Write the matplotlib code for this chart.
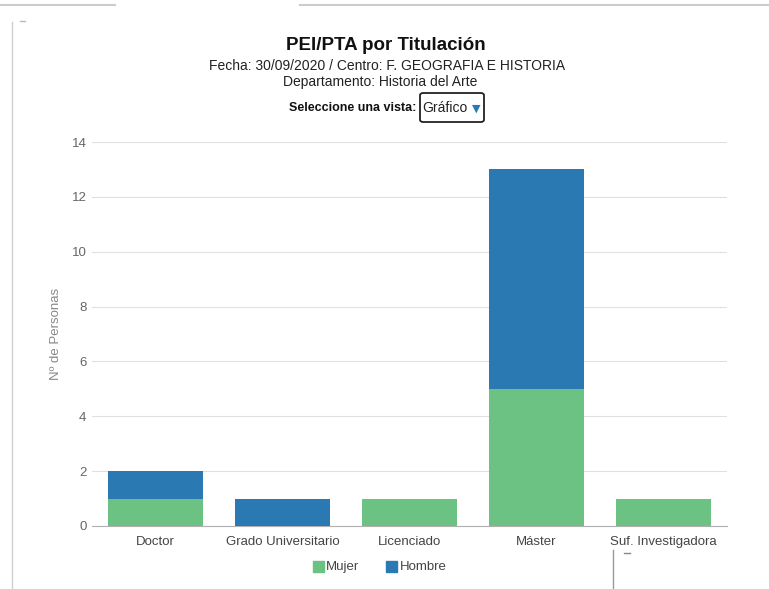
import matplotlib
matplotlib.use("Agg")
import matplotlib.pyplot as plt
from matplotlib.patches import FancyBboxPatch, Rectangle
from matplotlib.lines import Line2D
import numpy as np

plt.rcParams['font.family'] = ['Liberation Sans', 'DejaVu Sans']

categories = ["Doctor", "Grado Universitario", "Licenciado", "Máster", "Suf. Investigadora"]
mujer = [1, 0, 1, 5, 1]
hombre = [1, 1, 0, 8, 0]
yticks = [0, 2, 4, 6, 8, 10, 12, 14]

green = "#6cc283"
blue = "#2a79b3"

W, H = 769, 589
fig = plt.figure(figsize=(W/100, H/100), dpi=100)

def fx(x): return x / W
def fy(y): return 1 - y / H

ax = fig.add_axes([fx(92), fy(526), fx(727) - fx(92), fy(142) - fy(526)])
x = np.arange(len(categories))
ax.bar(x, mujer, width=0.755, color=green, zorder=3)
ax.bar(x, hombre, width=0.755, bottom=mujer, color=blue, zorder=3)
ax.set_xlim(-0.5, len(categories) - 0.5)
ax.set_ylim(0, 14)
ax.set_yticks(yticks)
ax.set_xticks(x)
ax.set_xticklabels(categories, fontsize=9.5, color="#444444")
ax.tick_params(axis='y', labelsize=9.5, labelcolor="#666666", length=0, pad=4)
ax.tick_params(axis='x', length=0, pad=7)
ax.grid(axis='y', color="#e0e0e0", linewidth=0.8, zorder=0)
for s in ["top", "right", "left"]:
    ax.spines[s].set_visible(False)
ax.spines["bottom"].set_color("#b0b0b0")
ax.set_ylabel("Nº de Personas", fontsize=9.5, color="#888888", labelpad=7)

# titles
fig.text(fx(386), fy(46), "PEI/PTA por Titulación", ha="center", va="center",
         fontsize=13.5, fontweight="bold", color="#111111")
fig.text(fx(387), fy(66), "Fecha: 30/09/2020 / Centro: F. GEOGRAFIA E HISTORIA",
         ha="center", va="center", fontsize=10, color="#222222")
fig.text(fx(380), fy(82), "Departamento: Historia del Arte",
         ha="center", va="center", fontsize=10, color="#222222")
fig.text(fx(416), fy(108), "Seleccione una vista:", ha="right", va="center",
         fontsize=9, fontweight="bold", color="#111111")
box = FancyBboxPatch((fx(420), fy(122)), fx(484) - fx(420), fy(93) - fy(122),
                     boxstyle="round,pad=0,rounding_size=0.004",
                     transform=fig.transFigure, fill=False, edgecolor="#222222", linewidth=1.3)
fig.add_artist(box)
fig.text(fx(422), fy(108), "Gráfico", ha="left", va="center", fontsize=10, color="#222222")
fig.text(fx(476), fy(109), "▼", ha="center", va="center", fontsize=8, color="#2a79b3",
         family=['DejaVu Sans'])

# legend
fig.add_artist(Rectangle((fx(313), fy(572)), fx(11), fy(561) - fy(572),
                         transform=fig.transFigure, color=green))
fig.text(fx(326), fy(567), "Mujer", ha="left", va="center", fontsize=9.5, color="#444444")
fig.add_artist(Rectangle((fx(386), fy(572)), fx(11), fy(561) - fy(572),
                         transform=fig.transFigure, color=blue))
fig.text(fx(400), fy(567), "Hombre", ha="left", va="center", fontsize=9.5, color="#444444")

# page decorations
fig.add_artist(Line2D([0, fx(115)], [fy(5), fy(5)], transform=fig.transFigure, color="#cccccc", lw=1.5))
fig.add_artist(Line2D([fx(300), 1], [fy(5), fy(5)], transform=fig.transFigure, color="#cccccc", lw=1.5))
fig.add_artist(Line2D([fx(12), fx(12)], [fy(22), 0], transform=fig.transFigure, color="#d0d0d0", lw=1))
fig.add_artist(Line2D([fx(20), fx(25)], [fy(21), fy(21)], transform=fig.transFigure, color="#bbbbbb", lw=1))
fig.add_artist(Line2D([fx(613), fx(613)], [fy(550), 0], transform=fig.transFigure, color="#999999", lw=1))
fig.add_artist(Line2D([fx(624), fx(630)], [fy(553), fy(553)], transform=fig.transFigure, color="#888888", lw=1))

fig.savefig("out.png", dpi=100)
